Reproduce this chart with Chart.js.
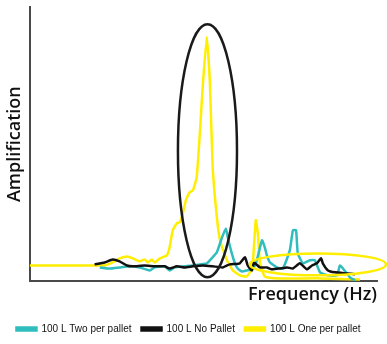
<!DOCTYPE html>
<html>
<head>
<meta charset="utf-8">
<script src="https://cdn.jsdelivr.net/npm/chart.js@4.4.1/dist/chart.umd.min.js"></script>
<style>
  html, body { margin: 0; padding: 0; background: #fff; }
  #wrap { width: 387px; height: 344px; }
</style>
</head>
<body>
<div id="wrap"><canvas id="chart"></canvas></div>
<script>
// valori (frequenza 0-100, ampiezza 0-100, unità arbitrarie)
const twoFreq = [20.2, 23.1, 25.9, 28.8, 31.7, 34.6, 36.0, 38.9, 40.3, 41.8, 44.7, 47.0, 49.0, 51.0, 52.7, 53.9, 55.3, 56.5, 57.1, 58.2, 59.1, 59.9, 61.1, 62.5, 64.3, 65.4, 66.9, 67.7, 68.3, 69.2, 71.2, 72.9, 74.9, 75.8, 76.7, 77.2, 78.7, 80.7, 82.1, 83.6, 85.9, 88.5, 89.3, 90.2, 92.2, 93.7];
const twoAmp  = [5.1, 4.7, 5.1, 5.5, 5.1, 4.0, 5.1, 5.5, 4.0, 5.1, 5.5, 5.8, 6.2, 6.6, 8.8, 10.6, 15.7, 19.3, 15.7, 10.2, 6.6, 4.7, 3.6, 4.0, 4.7, 7.7, 15.0, 12.4, 9.5, 6.9, 5.1, 4.7, 11.3, 18.6, 18.6, 10.2, 6.6, 7.7, 7.7, 3.3, 2.2, 2.2, 5.8, 4.7, 1.5, 0.4];

const noFreq = [18.7, 21.6, 23.9, 25.9, 28.0, 29.7, 33.1, 36.0, 38.9, 40.3, 42.4, 44.7, 47.0, 49.9, 52.7, 55.6, 57.6, 60.5, 62.0, 62.8, 64.0, 64.6, 66.3, 68.3, 69.7, 72.0, 74.1, 75.8, 77.8, 79.8, 81.3, 82.7, 83.9, 84.4, 85.9, 87.9, 91.4, 93.7];
const noAmp  = [6.2, 6.9, 8.0, 7.3, 5.8, 5.5, 5.8, 5.5, 5.5, 4.7, 5.5, 5.1, 5.5, 5.8, 5.5, 5.1, 6.2, 6.6, 8.8, 5.8, 4.0, 6.9, 5.1, 5.1, 4.4, 4.7, 5.1, 4.7, 6.6, 4.4, 5.8, 6.6, 8.4, 6.6, 4.0, 3.3, 2.9, 2.6];

const oneFreq = [0, 18.7, 21.6, 23.9, 25.9, 28.2, 29.7, 31.7, 33.1, 34.0, 35.2, 36.0, 37.5, 39.5, 40.3, 41.2, 42.4, 43.2, 44.1, 45.0, 46.1, 47.0, 48.1, 49.0, 49.9, 51.0, 51.9, 52.7, 53.9, 54.8, 56.8, 58.5, 60.5, 62.5, 63.4, 64.3, 65.1, 65.7, 66.3, 67.7, 72.0, 83.6, 95.1];
const oneAmp  = [5.8, 5.8, 5.8, 6.9, 8.4, 9.1, 8.4, 7.3, 8.0, 6.9, 8.0, 6.9, 8.4, 9.5, 12.4, 18.6, 21.2, 21.5, 24.8, 29.6, 32.5, 33.2, 38.0, 54.0, 72.3, 89.1, 72.3, 41.6, 23.4, 15.0, 7.7, 4.0, 2.2, 1.8, 3.3, 7.7, 22.3, 17.5, 6.9, 1.8, 1.1, 1.1, 0.7];

// ellissi di evidenziazione: [centro x, centro y, raggio x, raggio y]
const blackRing  = [51.2, 47.6, 8.5, 46.1];
const yellowRing = [83.0, 6.2, 19.6, 4.0];

const seriesLabels = ['100 L Two per pallet', '100 L No Pallet', '100 L One per pallet'];
const seriesColors = ['#2fbdbd', '#111111', '#ffee00'];

function toPoints(xs, ys) {
    return xs.map((x, i) => ({ x: x, y: ys[i] }));
}

// plugin per disegnare le ellissi sopra le linee
const ringsPlugin = {
    id: 'rings',
    afterDatasetsDraw(chart) {
        const ctx = chart.ctx;
        const sx = chart.scales.x, sy = chart.scales.y;
        const rings = [[blackRing, '#1a1a1a'], [yellowRing, '#ffee00']];
        rings.forEach(([r, color]) => {
            const cx = sx.getPixelForValue(r[0]);
            const cy = sy.getPixelForValue(r[1]);
            const rx = Math.abs(sx.getPixelForValue(r[0] + r[2]) - cx);
            const ry = Math.abs(sy.getPixelForValue(r[1] + r[3]) - cy);
            ctx.save();
            ctx.beginPath();
            ctx.ellipse(cx, cy, rx, ry, 0, 0, Math.PI * 2);
            ctx.lineWidth = 2.5;
            ctx.strokeStyle = color;
            ctx.stroke();
            ctx.restore();
        });
    }
};

const ctx = document.getElementById('chart').getContext('2d');
new Chart(ctx, {
    type: 'line',
    data: {
        datasets: [
            {
                label: seriesLabels[0],
                data: toPoints(twoFreq, twoAmp),
                borderColor: seriesColors[0],
                backgroundColor: seriesColors[0],
                order: 1
            },
            {
                label: seriesLabels[1],
                data: toPoints(noFreq, noAmp),
                borderColor: seriesColors[1],
                backgroundColor: seriesColors[1],
                order: 0
            },
            {
                label: seriesLabels[2],
                data: toPoints(oneFreq, oneAmp),
                borderColor: seriesColors[2],
                backgroundColor: seriesColors[2],
                order: 2
            }
        ]
    },
    options: {
        responsive: true,
        maintainAspectRatio: false,
        animation: false,
        layout: { padding: { top: 7, right: 10, left: 0, bottom: 0 } },
        elements: {
            line: { borderWidth: 2.5, tension: 0.15 },
            point: { radius: 0 }
        },
        scales: {
            x: {
                type: 'linear',
                min: 0,
                max: 100,
                grid: { display: false, drawTicks: false },
                border: { display: true, color: '#4a4a4a', width: 2 },
                ticks: { display: false },
                title: {
                    display: true,
                    text: 'Frequency (Hz)',
                    align: 'end',
                    color: '#111',
                    font: { family: 'Open Sans', size: 18, weight: '600' },
                    padding: { top: 3, bottom: 8 }
                }
            },
            y: {
                min: 0,
                max: 100,
                grid: { display: false, drawTicks: false },
                border: { display: true, color: '#4a4a4a', width: 2 },
                ticks: { display: false },
                title: {
                    display: true,
                    text: 'Amplification',
                    color: '#111',
                    font: { family: 'Open Sans', size: 18, weight: '600' },
                    padding: { top: 4, bottom: 4 }
                }
            }
        },
        plugins: {
            legend: {
                position: 'bottom',
                labels: {
                    boxWidth: 20,
                    boxHeight: 3,
                    padding: 10,
                    color: '#111',
                    font: { family: 'Liberation Sans', size: 10 },
                    sort: (a, b) => a.datasetIndex - b.datasetIndex
                }
            },
            tooltip: { enabled: false }
        }
    },
    plugins: [ringsPlugin]
});
</script>
</body>
</html>
